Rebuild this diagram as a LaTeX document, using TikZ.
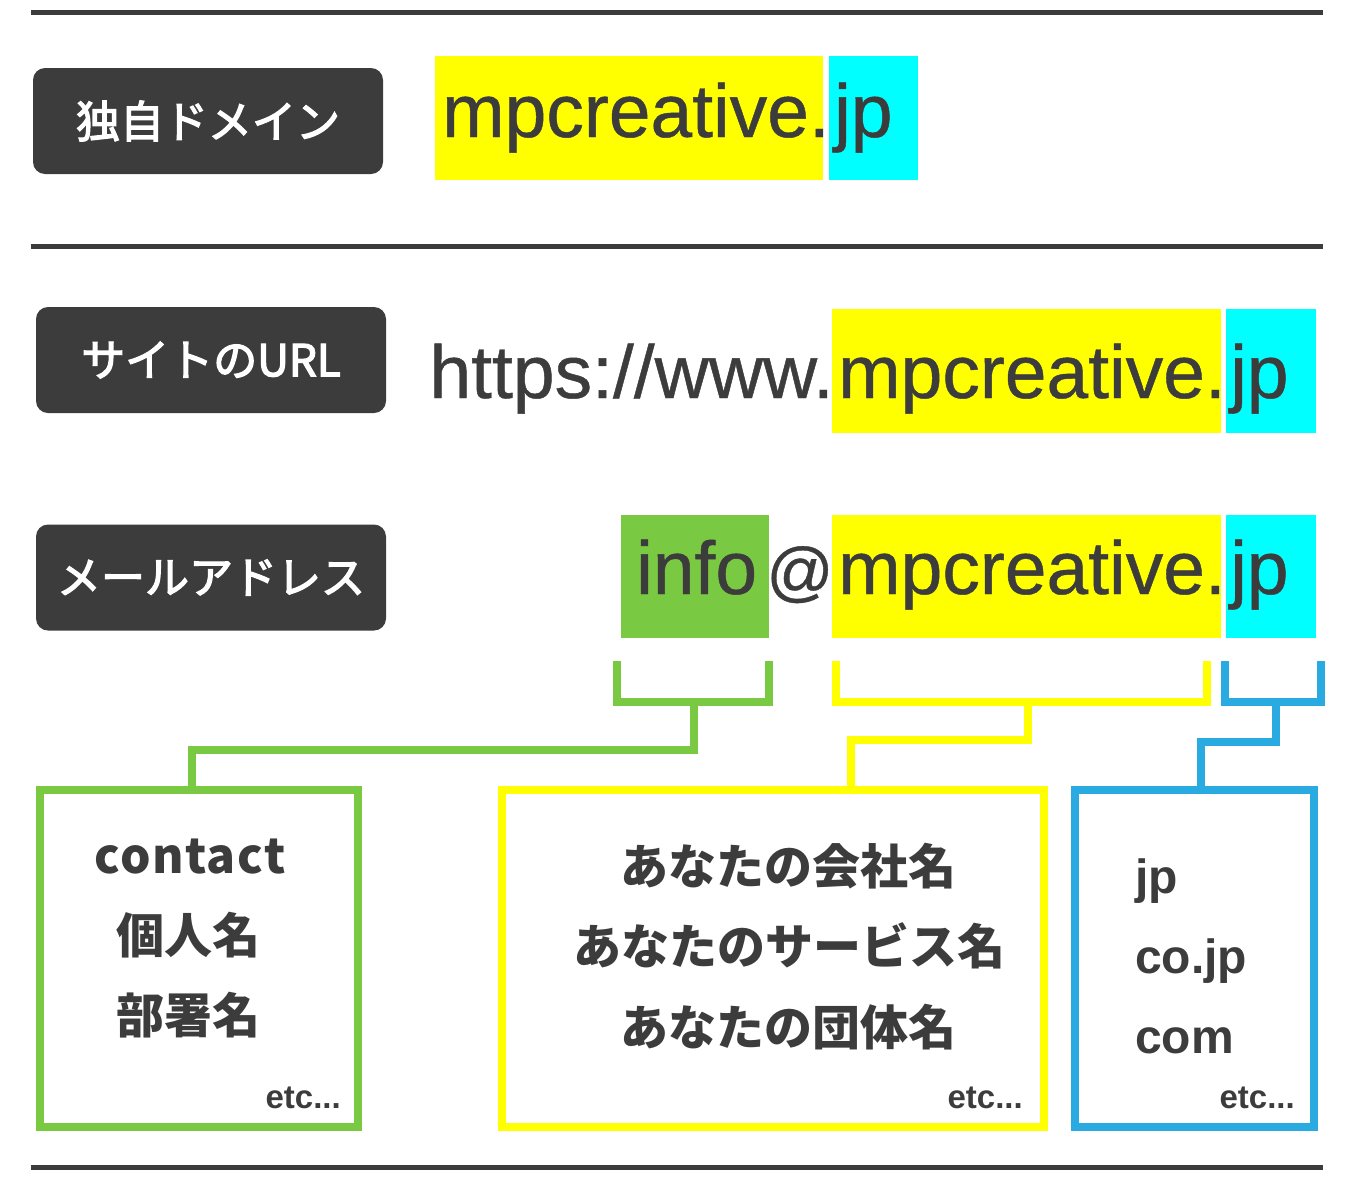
\documentclass[tikz,border=0pt]{standalone}
\usepackage{fontspec}
\setmainfont{Liberation Sans}
\newfontfamily\bigfont[FakeBold=0.6]{Liberation Sans}
\newfontfamily\jpfont{Noto Sans CJK JP}
\newfontfamily\jpmed[FakeBold=3]{Noto Sans CJK JP}
\newfontfamily\jpwide[LetterSpace=3]{Noto Sans CJK JP}
\usetikzlibrary{positioning}
\definecolor{ink}{HTML}{3C3C3C}
\definecolor{hlyellow}{HTML}{FFFF00}
\definecolor{hlcyan}{HTML}{00FFFF}
\definecolor{hlgreen}{HTML}{7AC943}
\definecolor{hlblue}{HTML}{29ABE2}

\begin{document}
\begin{tikzpicture}[x=1pt,y=-1pt,
	lab/.style={rectangle,rounded corners=12pt,fill=ink,text=white,inner sep=0pt,minimum width=350pt,minimum height=106pt,font=\jpmed\fontsize{44}{44}\selectfont},
	chip/.style={rectangle,fill=#1,inner sep=0pt,minimum height=124pt},
	big/.style={text=ink,inner sep=0pt,font=\bigfont\fontsize{75}{75}\selectfont},
	catbox/.style={rectangle,draw=#1,line width=8pt,outer sep=0pt,minimum height=337pt},
	brk/.style={draw=#1,line width=8pt},
	jptext/.style={text=ink,inner sep=0pt,font=\jpfont\bfseries\fontsize{48}{48}\selectfont},
	tld/.style={text=ink,inner sep=0pt,anchor=base west,font=\bfseries\fontsize{48}{48}\selectfont},
	etc/.style={text=ink,inner sep=0pt,anchor=base east,font=\bfseries\fontsize{33}{33}\selectfont},
	rule/.style={draw=ink,line width=5pt}]
	\useasboundingbox (0,0) rectangle (1350,1184);
	\draw[rule] (31,12) -- (1323,12);
	\draw[rule] (31,246) -- (1323,246);
	\draw[rule] (31,1167) -- (1323,1167);

	% labels on the left
	\path (208,121) node (lab1) [lab] {\raisebox{-3pt}{独自ドメイン}}
		  (211,360) node (lab2) [lab] {\raisebox{-3pt}{サイトのURL}}
		  (211,577.5) node (lab3) [lab] {\raisebox{-3pt}{メールアドレス}};

	% highlighted parts
	\path (629,118) node (sld1) [chip=hlyellow, minimum width=388pt] {}
		  (873.5,118) node (tld1) [chip=hlcyan, minimum width=89pt] {}
		  (1026.5,371) node (sld2) [chip=hlyellow, minimum width=389pt] {}
		  (1271,371) node (tld2) [chip=hlcyan, minimum width=90pt] {}
		  (695,576.5) node (usr3) [chip=hlgreen, minimum width=148pt, minimum height=123pt] {}
		  (1026.5,576.5) node (sld3) [chip=hlyellow, minimum width=389pt, minimum height=123pt] {}
		  (1271,576.5) node (tld3) [chip=hlcyan, minimum width=90pt, minimum height=123pt] {};

	\path (830,137) node (d1) [big, anchor=base east] {mpcreative.}
		  (834,137) node (j1) [big, anchor=base west] {jp}
		  (834,398) node (h2) [big, anchor=base east] {https://www.}
		  (1226,398) node (d2) [big, anchor=base east] {mpcreative.}
		  (1230,398) node (j2) [big, anchor=base west] {jp}
		  (636,594) node (i3) [big, anchor=base west] {info}
		  (800,594) node (at3) [big, anchor=base, font=\bigfont\fontsize{66}{66}\selectfont] {@}
		  (1226,594) node (d3) [big, anchor=base east] {mpcreative.}
		  (1230,594) node (j3) [big, anchor=base west] {jp};

	% boxes below
	\path (199,958.5) node (catg) [catbox=hlgreen, minimum width=318pt] {}
		  (773,958.5) node (caty) [catbox=hlyellow, minimum width=542pt] {}
		  (1194.4,958.5) node (catb) [catbox=hlblue, minimum width=238.7pt] {};

	\path (190,873) node (g1) [text=ink, inner sep=0pt, anchor=base, font=\jpwide\bfseries\fontsize{48}{48}\selectfont] {contact}
		  (188,935) node (g2) [jptext] {個人名}
		  (188,1015) node (g3) [jptext] {部署名}
		  (341,1108) node (g4) [etc] {etc...}
		  (788,866) node (y1) [jptext] {あなたの会社名}
		  (789,946) node (y2) [jptext] {あなたのサービス名}
		  (788,1027) node (y3) [jptext] {あなたの団体名}
		  (1023,1108) node (y4) [etc] {etc...}
		  (1135,893) node (b1) [tld] {jp}
		  (1135,973) node (b2) [tld] {co.jp}
		  (1135,1053) node (b3) [tld] {com}
		  (1295,1108) node (b4) [etc] {etc...};

	% brackets
	\coordinate (gfork) at (694,702);
	\coordinate (yfork) at (1028,702);
	\coordinate (bfork) at (1276,702);
	\draw[brk=hlgreen] (617,661) |- (769,702) -- (769,661);
	\draw[brk=hlyellow] (836,661) |- (1207,702) -- (1207,661);
	\draw[brk=hlblue] (1225,661) |- (1321,702) -- (1321,661);
	\draw[brk=hlgreen] (gfork) -- ++(0,48) -| ([xshift=-7pt]catg.north);
	\draw[brk=hlyellow] (yfork) -- ++(0,38) -| ([xshift=78pt]caty.north);
	\draw[brk=hlblue] (bfork) -- ++(0,40) -| ([xshift=7pt]catb.north);
\end{tikzpicture}
\end{document}
